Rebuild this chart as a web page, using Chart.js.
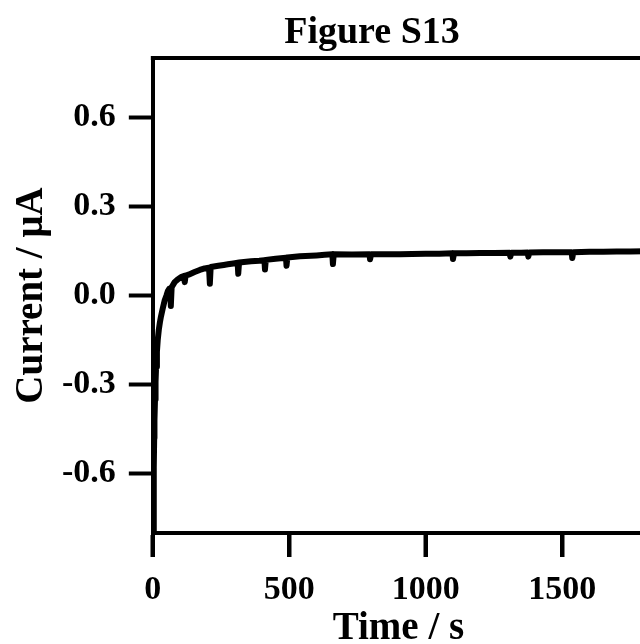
<!DOCTYPE html>
<html><head><meta charset="utf-8">
<script src="https://cdn.jsdelivr.net/npm/chart.js@4.4.1/dist/chart.umd.min.js"></script>
<style>
html,body{margin:0;padding:0;background:#fff;overflow:hidden;width:640px;height:644px}
#wrap{width:660px;height:644px;position:relative}
canvas{display:block}
</style>
</head><body><div id="wrap"><canvas id="c" width="660" height="644"></canvas></div>
<script>
const chartTitle = 'Figure S13';
const xAxisTitle = 'Time / s';
const yAxisTitle = 'Current / μA';
const xTicks = [0, 500, 1000, 1500];
const yTicks = [-0.6, -0.3, 0.0, 0.3, 0.6];
const xRange = [0, 1800];
const yRange = [-0.8, 0.8];

const timeS = [1, 3, 4, 5, 6, 8, 10, 12, 15, 18, 22, 26, 30, 36, 43, 50, 55, 60, 64, 66, 69,
  80, 92, 104, 114, 117, 120, 131, 153, 172, 190, 206, 209, 212, 240, 260, 275, 295,
  311, 313, 316, 360, 390, 409, 411, 414, 450, 488, 490, 493, 539, 600, 630, 658, 660, 663,
  730, 794, 796, 800, 850, 906, 950, 1000, 1050, 1098, 1100, 1104, 1150, 1200, 1250,
  1308, 1310, 1314, 1350, 1374, 1376, 1380, 1430, 1480, 1535, 1537, 1541, 1600, 1650,
  1700, 1750, 1800];
const currentUA = [-0.80, -0.70, -0.58, -0.48, -0.42, -0.35, -0.29, -0.24, -0.19, -0.15, -0.115, -0.09, -0.07, -0.045, -0.018, 0.0, 0.015, 0.022, 0.02, -0.035, 0.028,
  0.045, 0.055, 0.062, 0.066, 0.045, 0.067, 0.07, 0.079, 0.086, 0.091, 0.094, 0.04, 0.096, 0.1, 0.103, 0.105, 0.108,
  0.11, 0.073, 0.111, 0.115, 0.117, 0.119, 0.088, 0.12, 0.124, 0.127, 0.1, 0.128, 0.132, 0.135, 0.137, 0.139, 0.106, 0.139,
  0.138, 0.139, 0.122, 0.139, 0.139, 0.139, 0.14, 0.141, 0.141, 0.142, 0.123, 0.142, 0.142, 0.143, 0.143,
  0.144, 0.131, 0.144, 0.144, 0.145, 0.131, 0.145, 0.146, 0.146, 0.146, 0.126, 0.146, 0.147, 0.147,
  0.148, 0.148, 0.149];

const FONT = '"Liberation Serif", "Times New Roman", serif';
const TICK_LEN = 24;

const framePlugin = {
  id: 'frame',
  afterDraw(chart) {
    const {ctx, chartArea: a, scales} = chart;
    ctx.save();
    ctx.strokeStyle = '#000';
    ctx.lineWidth = 4;
    ctx.beginPath();
    ctx.moveTo(a.left - 2, a.top);
    ctx.lineTo(a.right, a.top);
    ctx.lineTo(a.right, a.bottom);
    ctx.stroke();
    // outward tick marks on the time axis, positioned by the library's x scale
    ctx.beginPath();
    xTicks.forEach(v => {
      const px = Math.round(scales.x.getPixelForValue(v));
      ctx.moveTo(px, a.bottom);
      ctx.lineTo(px, a.bottom + TICK_LEN);
    });
    ctx.stroke();
    ctx.restore();
  }
};
const titlePlugin = {
  id: 'figTitle',
  afterDraw(chart) {
    const {ctx} = chart;
    ctx.save();
    ctx.fillStyle = '#000';
    ctx.font = 'bold 38px ' + FONT;
    ctx.textAlign = 'center';
    ctx.textBaseline = 'alphabetic';
    ctx.fillText(chartTitle, 372, 43);
    ctx.restore();
  }
};

new Chart(document.getElementById('c'), {
  type: 'line',
  data: {
    datasets: [{
      data: timeS.map((t, i) => ({x: t, y: currentUA[i]})),
      borderColor: '#000',
      borderWidth: 6,
      pointRadius: 0,
      tension: 0,
      fill: false,
      borderJoinStyle: 'round',
      borderCapStyle: 'round'
    }]
  },
  options: {
    responsive: false,
    animation: false,
    layout: {padding: {top: 58, left: 0, right: 16, bottom: -4}},
    plugins: {legend: {display: false}, title: {display: false}, tooltip: {enabled: false}},
    scales: {
      x: {
        type: 'linear', min: xRange[0], max: xRange[1],
        afterBuildTicks: ax => { ax.ticks = xTicks.map(v => ({value: v})); },
        ticks: {color: '#000', font: {family: FONT, size: 34, weight: 'bold', lineHeight: 1}, padding: 16, maxRotation: 0, autoSkip: false, callback: v => String(v)},
        grid: {display: true, drawOnChartArea: false, drawTicks: true, tickLength: TICK_LEN, tickWidth: 4, tickColor: '#000'},
        border: {display: true, color: '#000', width: 4},
        title: {display: true, text: xAxisTitle, color: '#000', font: {family: FONT, size: 39, weight: 'bold', lineHeight: 1}, padding: {top: -14, bottom: 0}}
      },
      y: {
        type: 'linear', min: yRange[0], max: yRange[1],
        afterBuildTicks: ax => { ax.ticks = yTicks.map(v => ({value: v})); },
        ticks: {color: '#000', font: {family: FONT, size: 34, weight: 'bold', lineHeight: 1}, padding: 13, callback: v => Number(v).toFixed(1)},
        grid: {display: true, drawOnChartArea: false, drawTicks: true, tickLength: TICK_LEN, tickWidth: 4, tickColor: '#000'},
        border: {display: true, color: '#000', width: 4},
        title: {display: true, text: yAxisTitle, color: '#000', font: {family: FONT, size: 39, weight: 'bold', lineHeight: 1}, padding: {top: 12, bottom: -2}}
      }
    }
  },
  plugins: [framePlugin, titlePlugin]
});
</script>
</body></html>
